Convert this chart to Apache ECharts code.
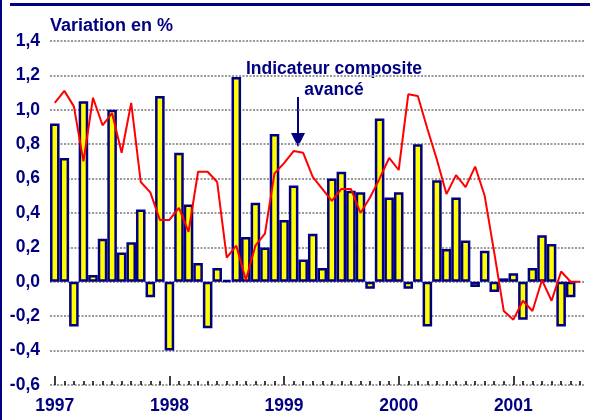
<!DOCTYPE html>
<html>
<head>
<meta charset="utf-8">
<script src="https://cdn.jsdelivr.net/npm/echarts@6/dist/echarts.min.js"></script>
<style>
  html, body { margin: 0; padding: 0; background: #fff; }
  #main { width: 600px; height: 420px; }
</style>
</head>
<body>
<div id="main"></div>
<script>
// months jan 1997 -> aug 2001
let years = ['1997', '1998', '1999', '2000', '2001'];
let monthsLastYear = 8;
let months = [];
years.forEach((y, i) => {
    let n = i === years.length - 1 ? monthsLastYear : 12;
    for (let m = 1; m <= n; m++) months.push(y + '-' + (m < 10 ? '0' + m : m));
});

// variation mensuelle (barres)
let variation = [
    0.92, 0.72, -0.26, 1.05, 0.04, 0.25, 1.00, 0.17, 0.23, 0.42, -0.09, 1.08,
    -0.40, 0.75, 0.45, 0.11, -0.27, 0.08, 0.01, 1.19, 0.26, 0.46, 0.20, 0.86,
    0.36, 0.56, 0.13, 0.28, 0.08, 0.60, 0.64, 0.53, 0.52, -0.04, 0.95, 0.49,
    0.52, -0.04, 0.80, -0.26, 0.59, 0.19, 0.49, 0.24, -0.03, 0.18, -0.06, 0.02,
    0.05, -0.22, 0.08, 0.27, 0.22, -0.26, -0.09, null
];
// indicateur composite avance (ligne)
let indicateur = [
    1.04, 1.11, 1.02, 0.70, 1.07, 0.91, 0.98, 0.75, 1.04, 0.58, 0.52, 0.36,
    0.36, 0.43, 0.29, 0.64, 0.64, 0.58, 0.14, 0.21, 0.01, 0.21, 0.28, 0.63,
    0.69, 0.76, 0.75, 0.61, 0.54, 0.47, 0.54, 0.54, 0.40, 0.49, 0.60, 0.72,
    0.65, 1.09, 1.08, 0.89, 0.71, 0.51, 0.62, 0.55, 0.67, 0.50, 0.17, -0.17,
    -0.22, -0.11, -0.17, 0.01, -0.11, 0.06, 0.00, 0.00
];
let yTicks = [-0.6, 1.4, 0.2]; // min, max, pas

const navy = '#000080';
const font = "'Liberation Sans', Arial, sans-serif";
const gridLeft = 50, gridRight = 15;
// largeur d'une barre = largeur d'une categorie
const bandWidth = (600 - gridLeft - gridRight) / months.length;

let myChart = echarts.init(document.getElementById('main'));
myChart.setOption({
    animation: false,
    textStyle: { fontFamily: font },
    grid: { left: gridLeft, right: gridRight, top: 41, bottom: 35 },
    xAxis: [{
        type: 'category',
        data: months,
        position: 'bottom',
        axisLine: { show: false, onZero: false },
        axisTick: {
            show: true, inside: true, length: 4, alignWithLabel: true, interval: 0,
            lineStyle: { color: '#000', width: 1.5 }
        },
        axisLabel: {
            interval: (i) => i % 12 === 0,
            formatter: (v) => v.slice(0, 4),
            color: navy, fontWeight: 'bold', fontSize: 17.5, margin: 12, fontFamily: font
        },
        splitLine: { show: false }
    }, {
        type: 'category',
        data: months,
        position: 'bottom',
        axisLine: { show: false, onZero: false },
        axisTick: {
            show: true, inside: true, length: 9, alignWithLabel: true,
            interval: (i) => i % 12 === 0,
            lineStyle: { color: '#000', width: 1.5 }
        },
        axisLabel: { show: false },
        splitLine: { show: false }
    }],
    yAxis: {
        type: 'value',
        min: yTicks[0],
        max: yTicks[1],
        interval: yTicks[2],
        axisLine: { show: false },
        axisTick: { show: false },
        axisLabel: {
            formatter: (v) => v.toFixed(1).replace('.', ','),
            color: navy, fontWeight: 'bold', fontSize: 17.5, margin: 10, fontFamily: font
        },
        splitLine: { lineStyle: { color: '#999', width: 2, type: [2, 1.5] } }
    },
    series: [{
        name: 'Variation en %',
        type: 'bar',
        xAxisIndex: 0,
        data: variation,
        barWidth: bandWidth,
        barCategoryGap: '0%',
        itemStyle: { color: '#ffff00', borderColor: navy, borderWidth: 2.5 }
    }, {
        name: 'Indicateur composite avancé',
        type: 'line',
        xAxisIndex: 0,
        data: indicateur,
        symbol: 'none',
        z: 5,
        lineStyle: { color: '#ff0000', width: 2 }
    }],
    graphic: [
        // cadre
        { type: 'line', shape: { x1: 1, y1: 0, x2: 1, y2: 420 }, style: { stroke: navy, lineWidth: 2 } },
        { type: 'line', shape: { x1: 10, y1: 4.5, x2: 590, y2: 4.5 }, style: { stroke: navy, lineWidth: 3 } },
        {
            type: 'text', left: 50, top: 17,
            style: { text: 'Variation en %', fill: navy, font: 'bold 18px ' + font }
        },
        {
            type: 'text', x: 334, y: 69,
            style: { text: 'Indicateur composite', fill: navy, font: 'bold 17.5px ' + font, textAlign: 'center', textVerticalAlign: 'middle' }
        },
        {
            type: 'text', x: 334, y: 90,
            style: { text: 'avancé', fill: navy, font: 'bold 17.5px ' + font, textAlign: 'center', textVerticalAlign: 'middle' }
        },
        { type: 'line', shape: { x1: 298, y1: 97, x2: 298, y2: 136 }, style: { stroke: navy, lineWidth: 2 } },
        { type: 'polygon', shape: { points: [[291, 133], [305, 133], [298, 147]] }, style: { fill: navy } }
    ]
});
</script>
</body>
</html>
